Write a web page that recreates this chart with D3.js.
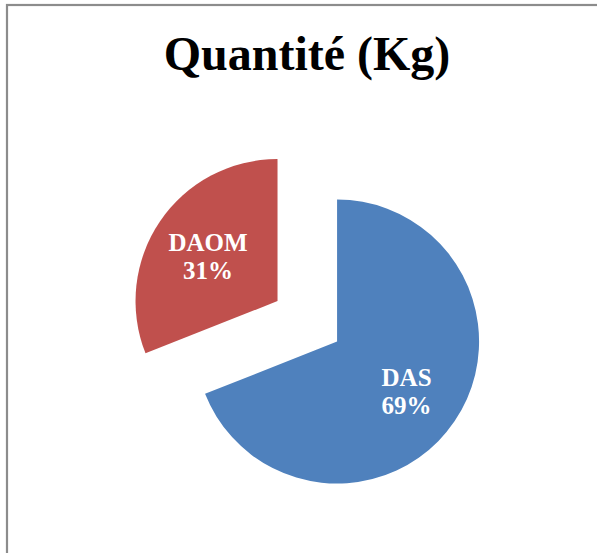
<!DOCTYPE html>
<html>
<head>
<meta charset="utf-8">
<script src="https://cdn.jsdelivr.net/npm/d3@7"></script>
<style>
  html, body { margin: 0; padding: 0; background: #fff; }
  svg { display: block; }
</style>
</head>
<body>
<svg id="chart" width="597" height="553"></svg>
<script>
// ── Data ─────────────────────────────────────────────────────────
const categories = ["DAS", "DAOM"];
const values     = [69, 31];
const colors     = ["#4F81BD", "#C0504D"];
const title      = "Quantité (Kg)";

// ── Config ───────────────────────────────────────────────────────
const W = 597, H = 553;
const cx = 307.3, cy = 321.3;
const R = 142;
const EXPLODE = 36;
const LABEL_R = 84;

const svg = d3.select("#chart");

// frame (chart area border, cut by the window on right/bottom)
svg.append("rect")
  .attr("x", 7).attr("y", 5)
  .attr("width", W + 20).attr("height", H + 20)
  .attr("fill", "#fff")
  .attr("stroke", "#8c8c8c")
  .attr("stroke-width", 2.2);

svg.append("text")
  .attr("x", 307).attr("y", 70)
  .attr("text-anchor", "middle")
  .attr("font-family", "'Liberation Serif', 'Times New Roman', serif")
  .attr("font-weight", "bold")
  .attr("font-size", 48)
  .attr("fill", "#000")
  .text(title);

// ── Pie ──────────────────────────────────────────────────────────
const pie = d3.pie().sort(null).value(d => d.value);
const arcs = pie(categories.map((c, i) => ({ name: c, value: values[i], color: colors[i] })));
const total = d3.sum(values);

const arc = d3.arc().innerRadius(0).outerRadius(R);

const g = svg.append("g").attr("transform", `translate(${cx},${cy})`);

function offset(d) {
  const a = (d.startAngle + d.endAngle) / 2;
  return [Math.sin(a) * EXPLODE, -Math.cos(a) * EXPLODE];
}

const slice = g.selectAll(".slice").data(arcs).enter()
  .append("g")
  .attr("class", "slice")
  .attr("transform", d => { const o = offset(d); return `translate(${o[0]},${o[1]})`; });

slice.append("path")
  .attr("d", arc)
  .attr("fill", d => d.data.color);

const labelArc = d3.arc().innerRadius(LABEL_R).outerRadius(LABEL_R);

const lbl = slice.append("text")
  .attr("transform", d => { const c = labelArc.centroid(d); return `translate(${c[0]},${c[1]})`; })
  .attr("text-anchor", "middle")
  .attr("font-family", "'Liberation Serif', 'Times New Roman', serif")
  .attr("font-weight", "bold")
  .attr("font-size", 25)
  .attr("fill", "#fff");

lbl.append("tspan").attr("x", 0).attr("dy", "-0.1em").text(d => d.data.name);
lbl.append("tspan").attr("x", 0).attr("dy", "1.1em")
  .text(d => Math.round(d.data.value / total * 100) + "%");
</script>
</body>
</html>
